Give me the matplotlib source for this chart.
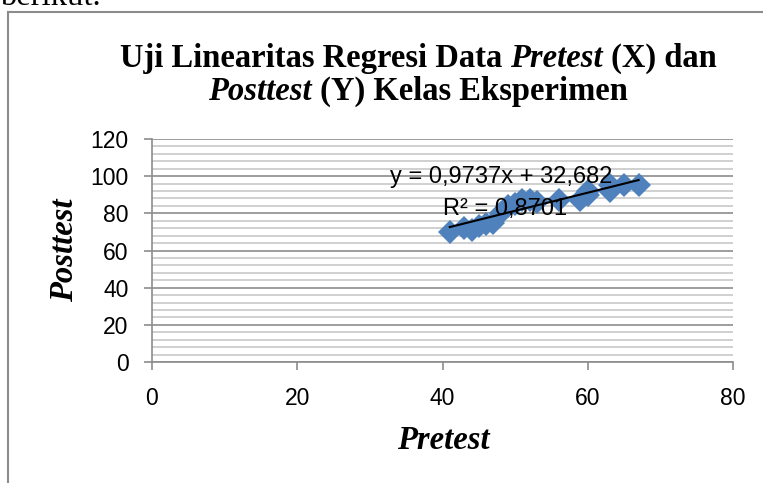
import numpy as np
import matplotlib
matplotlib.use('Agg')
import matplotlib.pyplot as plt
from matplotlib.ticker import MultipleLocator
from matplotlib.lines import Line2D

# data
pretest = [41, 43, 44, 45, 46, 47, 48, 49, 50, 51, 52, 53, 56, 59, 60, 60, 63, 63, 65, 67]
posttest = [70, 72, 71, 73, 74, 75, 80, 84, 85, 87, 87, 86, 87, 87, 90, 92, 92, 95, 95, 95]
slope = 0.9737
intercept = 32.682
eq_label = 'y = 0,9737x + 32,682'
r2_label = 'R² = 0,8701'

W, H = 763, 483
fig = plt.figure(figsize=(W / 100, H / 100), dpi=100)
ax = fig.add_axes([152 / W, 1 - 362 / H, (733 - 152) / W, (362 - 139) / H])

serif = 'Liberation Serif'
sans = 'Liberation Sans'
big = 23.5

# page frame around the chart
fig.add_artist(Line2D([8 / W, 8 / W], [0, 1 - 12 / H], transform=fig.transFigure,
                      color='#8c8c8c', linewidth=1.5))
fig.add_artist(Line2D([8 / W, 1], [1 - 12 / H, 1 - 12 / H], transform=fig.transFigure,
                      color='#8c8c8c', linewidth=1.5))
fig.text(0, 1 - 5 / H, 'berikut.', family=serif, fontsize=big, va='baseline')

ax.set_xlim(0, 80)
ax.set_ylim(0, 120)
ax.xaxis.set_major_locator(MultipleLocator(20))
ax.yaxis.set_major_locator(MultipleLocator(20))
ax.yaxis.set_minor_locator(MultipleLocator(4))
ax.grid(which='major', axis='y', color='#8c8c8c', linewidth=1.2)
ax.grid(which='minor', axis='y', color='#c8c8c8', linewidth=1.2)
ax.set_axisbelow(True)
for s in ('top', 'right'):
    ax.spines[s].set_visible(False)
for s in ('left', 'bottom'):
    ax.spines[s].set_color('#8c8c8c')
    ax.spines[s].set_linewidth(1.2)
ax.tick_params(which='major', length=6, width=1.2, color='#8c8c8c', labelsize=16.5)
ax.tick_params(which='minor', length=0)
ax.tick_params(axis='y', pad=11)
ax.tick_params(axis='x', pad=12)
for lab in ax.get_xticklabels() + ax.get_yticklabels():
    lab.set_family(sans)

ax.plot(pretest, posttest, linestyle='none', marker='D', markersize=12,
        color='#4f81bd', markeredgewidth=0, clip_on=False)

xs = np.array([min(pretest), max(pretest)])
ax.plot(xs, slope * xs + intercept, color='black', linewidth=1.5)

ax.text(390 / W, 1 - 177 / H, eq_label, transform=fig.transFigure, family=sans,
        fontsize=17, va='center', ha='left')
ax.text(443 / W, 1 - 209 / H, r2_label, transform=fig.transFigure, family=sans,
        fontsize=17, va='center', ha='left')


def mixed_line(parts, xc, y, size):
    '''
    Draws a centred line of bold text where some pieces are italic
    '''
    fig.canvas.draw()
    r = fig.canvas.get_renderer()
    texts = []
    total = 0
    for s, it in parts:
        t = fig.text(0, y, s, family=serif, weight='bold',
                     style='italic' if it else 'normal', fontsize=size, va='baseline')
        w = t.get_window_extent(r).width
        texts.append((t, w))
        total += w
    x = xc * W - total / 2
    for t, w in texts:
        t.set_x(x / W)
        x += w


mixed_line([('Uji Linearitas Regresi Data ', False), ('Pretest', True),
            (' (X) dan', False)], 418 / W, 1 - 67 / H, big)
mixed_line([('Posttest', True), (' (Y) Kelas Eksperimen', False)],
           418 / W, 1 - 100 / H, big)

fig.text(443 / W, 1 - 449 / H, 'Pretest', family=serif, weight='bold', style='italic',
         fontsize=big, ha='center', va='baseline')
fig.text(65 / W, 1 - 250 / H, 'Posttest', family=serif, weight='bold', style='italic',
         fontsize=big, ha='center', va='center', rotation=90)

fig.savefig('out.png', dpi=100)
